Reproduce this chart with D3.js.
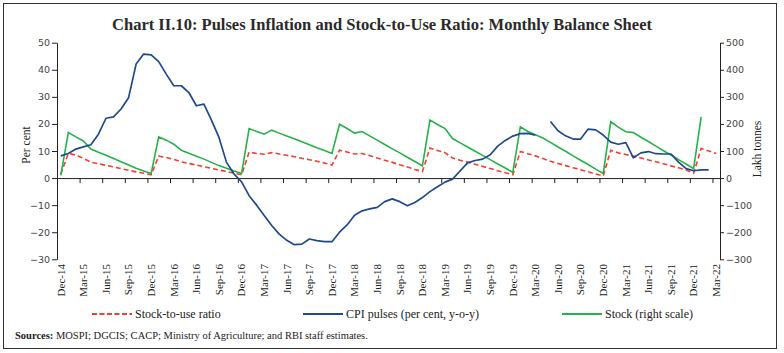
<!DOCTYPE html>
<html>
<head>
<meta charset="utf-8">
<script src="https://cdn.jsdelivr.net/npm/d3@7"></script>
<style>
  body { margin: 0; background: #fff; }
  svg { display: block; }
</style>
</head>
<body>
<script>
// CATEGORIES (monthly, Dec-14 to Mar-22)
const months = [
  "Dec-14",
  "Jan-15","Feb-15","Mar-15","Apr-15","May-15","Jun-15","Jul-15","Aug-15","Sep-15","Oct-15","Nov-15","Dec-15",
  "Jan-16","Feb-16","Mar-16","Apr-16","May-16","Jun-16","Jul-16","Aug-16","Sep-16","Oct-16","Nov-16","Dec-16",
  "Jan-17","Feb-17","Mar-17","Apr-17","May-17","Jun-17","Jul-17","Aug-17","Sep-17","Oct-17","Nov-17","Dec-17",
  "Jan-18","Feb-18","Mar-18","Apr-18","May-18","Jun-18","Jul-18","Aug-18","Sep-18","Oct-18","Nov-18","Dec-18",
  "Jan-19","Feb-19","Mar-19","Apr-19","May-19","Jun-19","Jul-19","Aug-19","Sep-19","Oct-19","Nov-19","Dec-19",
  "Jan-20","Feb-20","Mar-20","Apr-20","May-20","Jun-20","Jul-20","Aug-20","Sep-20","Oct-20","Nov-20","Dec-20",
  "Jan-21","Feb-21","Mar-21","Apr-21","May-21","Jun-21","Jul-21","Aug-21","Sep-21","Oct-21","Nov-21","Dec-21",
  "Jan-22","Feb-22","Mar-22"
]

// SERIES (left scale, per cent)
const stockToUse = [
  1.4,
  9.1, 8.5, 7.3, 5.9, 5.3, 4.7, 4.1, 3.5, 2.9, 2.3, 1.8, 1.2,
  8.1, 7.6, 6.9, 6.0, 5.4, 4.8, 4.2, 3.6, 3.0, 2.4, 1.8, 1.2,
  9.6, 9.1, 8.8, 9.4, 8.9, 8.4, 7.9, 7.3, 6.8, 6.2, 5.6, 4.8,
  10.3, 9.6, 8.9, 9.1, 8.3, 7.4, 6.6, 5.8, 4.9, 4.1, 3.2, 2.4,
  11.1, 10.2, 9.4, 7.4, 6.6, 5.9, 5.1, 4.3, 3.5, 2.7, 2.0, 1.2,
  9.8, 9.0, 8.2, 7.2, 6.2, 5.4, 4.6, 3.8, 3.1, 2.3, 1.5, 0.8,
  10.3, 9.3, 8.7, 8.1, 7.4, 6.7, 6.0, 5.3, 4.5, 3.8, 3.0, 1.8,
  10.9, 10.0, 9.1
]
const cpiPulses = [
  8.2,
  9.1, 10.7, 11.5, 12.3, 16.2, 22.1, 22.6, 25.5, 29.7, 42.1, 45.8, 45.5,
  43.0, 38.4, 34.1, 34.1, 31.6, 26.7, 27.3, 21.4, 15.0, 5.8, 1.5, -1.4,
  -6.5, -10.0, -13.8, -17.5, -20.7, -23.0, -24.6, -24.4, -22.5, -23.1, -23.5, -23.5,
  -20.0, -17.3, -13.7, -12.1, -11.4, -10.8, -8.7, -7.7, -8.7, -10.2, -9.0, -7.2,
  -5.0, -3.2, -1.5, -0.4, 2.6, 5.6, 6.5, 7.0, 8.6, 11.8, 13.9, 15.5,
  16.4, 16.5, 15.8, null, 20.9, 17.5, 15.6, 14.4, 14.4, 18.1, 17.8, 15.9,
  13.3, 12.5, 13.1, 7.5, 9.3, 9.8, 9.0, 8.9, 8.9, 5.9, 3.5, 2.7,
  3.0, 3.0, null
]
// SERIES (right scale, lakh tonnes)
const stock = [
  10,
  168, 152, 137, 107, 95, 84, 72, 60, 48, 36, 26, 17,
  152, 140, 125, 103, 92, 81, 70, 58, 46, 36, 26, 17,
  183, 172, 162, 177, 166, 155, 145, 134, 123, 112, 102, 91,
  199, 183, 166, 172, 156, 140, 124, 108, 93, 77, 61, 45,
  214, 198, 183, 146, 130, 115, 99, 84, 68, 52, 37, 21,
  189, 172, 160, 148, 132, 115, 99, 82, 66, 50, 33, 17,
  208, 188, 171, 168, 151, 135, 118, 101, 85, 68, 52, 35,
  226, null, null
]

// TICKS
const leftTicks = [-30, -20, -10, 0, 10, 20, 30, 40, 50]
const rightTicks = [-300, -200, -100, 0, 100, 200, 300, 400, 500]
const xLabels = months.filter((d, i) => i % 3 === 0)

const title = "Chart II.10: Pulses Inflation and Stock-to-Use Ratio: Monthly Balance Sheet"
const legendItems = [
  { key: "stockToUse", label: "Stock-to-use ratio" },
  { key: "cpi", label: "CPI pulses (per cent, y-o-y)" },
  { key: "stock", label: "Stock (right scale)" }
]

//USEFUL VARIABLES
const svgwidth = 784
const svgheight = 353
const plot = { left: 57, right: 720, top: 42.7, bottom: 259.3 }
const colors = { stockToUse: "#f0402f", cpi: "#1f4a8a", stock: "#27b14a" }
const serif = "'Liberation Serif', 'DejaVu Serif', serif"
const sans = "'DejaVu Sans', Verdana, sans-serif"

const svg = d3.select("body").append("svg")
              .attr("width", svgwidth)
              .attr("height", svgheight)

//FRAME
svg.append("rect")
   .attr("x", 3.5).attr("y", 3.5)
   .attr("width", 773).attr("height", 345)
   .attr("fill", "none").attr("stroke", "#333").attr("stroke-width", 1)

//TITLE
svg.append("text")
   .attr("x", 382).attr("y", 30)
   .attr("text-anchor", "middle")
   .attr("textLength", 540).attr("lengthAdjust", "spacingAndGlyphs")
   .style("font-family", serif).style("font-size", "16.5px").style("font-weight", "bold")
   .attr("fill", "#2a2a2a")
   .text(title)

//SCALES
const X = d3.scaleBand().domain(d3.range(months.length)).range([plot.left, plot.right])
const Xb = d3.scaleLinear().domain([0, months.length]).range([plot.left, plot.right])
const YL = d3.scaleLinear().domain([-30, 50]).range([plot.bottom, plot.top])
const YR = d3.scaleLinear().domain([-300, 500]).range([plot.bottom, plot.top])
const cx = i => X(i) + X.bandwidth() / 2

//AXES
const styleAxis = g => {
  g.selectAll("path, line").attr("stroke", "#222").attr("stroke-width", 1)
  g.selectAll("text").style("font-family", sans).style("font-size", "9.5px").attr("fill", "#444")
}
svg.append("g")
   .attr("transform", `translate(${plot.left},0)`)
   .call(d3.axisLeft(YL).tickValues(leftTicks).tickSize(5).tickSizeOuter(0).tickPadding(2))
   .call(styleAxis)
svg.append("g")
   .attr("transform", `translate(${plot.right},0)`)
   .call(d3.axisRight(YR).tickValues(rightTicks).tickSize(4).tickSizeOuter(0).tickPadding(2))
   .call(styleAxis)
svg.append("g")
   .attr("transform", `translate(0,${YL(0)})`)
   .call(d3.axisBottom(Xb).tickValues(d3.range(0, months.length + 1, 3)).tickSize(5).tickSizeOuter(0).tickFormat(""))
   .call(styleAxis)

//X LABELS (rotated, at the bottom)
svg.append("g").selectAll("text")
   .data(xLabels)
   .enter().append("text")
   .attr("transform", (d) => `translate(${cx(months.indexOf(d))},264) rotate(-90)`)
   .attr("dy", "0.35em")
   .attr("text-anchor", "end")
   .style("font-family", serif).style("font-size", "11px")
   .attr("fill", "#222")
   .text(d => d)

//AXIS TITLES
svg.append("text")
   .attr("transform", "translate(26,145) rotate(-90)")
   .attr("dy", "0.35em").attr("text-anchor", "middle")
   .style("font-family", serif).style("font-size", "11.5px").attr("fill", "#222")
   .text("Per cent")
svg.append("text")
   .attr("transform", "translate(757,149) rotate(-90)")
   .attr("dy", "0.35em").attr("text-anchor", "middle")
   .style("font-family", serif).style("font-size", "11.5px").attr("fill", "#222")
   .text("Lakh tonnes")

//LINES
const lineL = d3.line().defined(d => d !== null).x((d, i) => cx(i)).y(d => YL(d))
const lineR = d3.line().defined(d => d !== null).x((d, i) => cx(i)).y(d => YR(d))

svg.append("path").datum(stockToUse)
   .attr("d", lineL).attr("fill", "none")
   .attr("stroke", colors.stockToUse).attr("stroke-width", 1.6)
   .attr("stroke-dasharray", "5,3")
svg.append("path").datum(stock)
   .attr("d", lineR).attr("fill", "none")
   .attr("stroke", colors.stock).attr("stroke-width", 1.6)
svg.append("path").datum(cpiPulses)
   .attr("d", lineL).attr("fill", "none")
   .attr("stroke", colors.cpi).attr("stroke-width", 1.7)
   .attr("stroke-linejoin", "round")

//LEGEND
const legendX = [92, 303, 562]
const legend = svg.append("g").selectAll("g")
                  .data(legendItems)
                  .enter().append("g")
                  .attr("transform", (d, i) => `translate(${legendX[i]},314)`)
legend.append("line")
      .attr("x1", 0).attr("x2", 40).attr("y1", 0).attr("y2", 0)
      .attr("stroke", d => colors[d.key]).attr("stroke-width", 2)
      .attr("stroke-dasharray", d => d.key === "stockToUse" ? "5,2.5" : null)
legend.append("text")
      .attr("x", 43).attr("dy", "0.35em")
      .style("font-family", serif).style("font-size", "12px").attr("fill", "#222")
      .text(d => d.label)

//SOURCES
const src = svg.append("text")
               .attr("x", 15).attr("y", 339)
               .style("font-family", serif).style("font-size", "10.5px").attr("fill", "#222")
src.append("tspan").style("font-weight", "bold").text("Sources:")
src.append("tspan").text(" MOSPI; DGCIS; CACP; Ministry of Agriculture; and RBI staff estimates.")
</script>
</body>
</html>
